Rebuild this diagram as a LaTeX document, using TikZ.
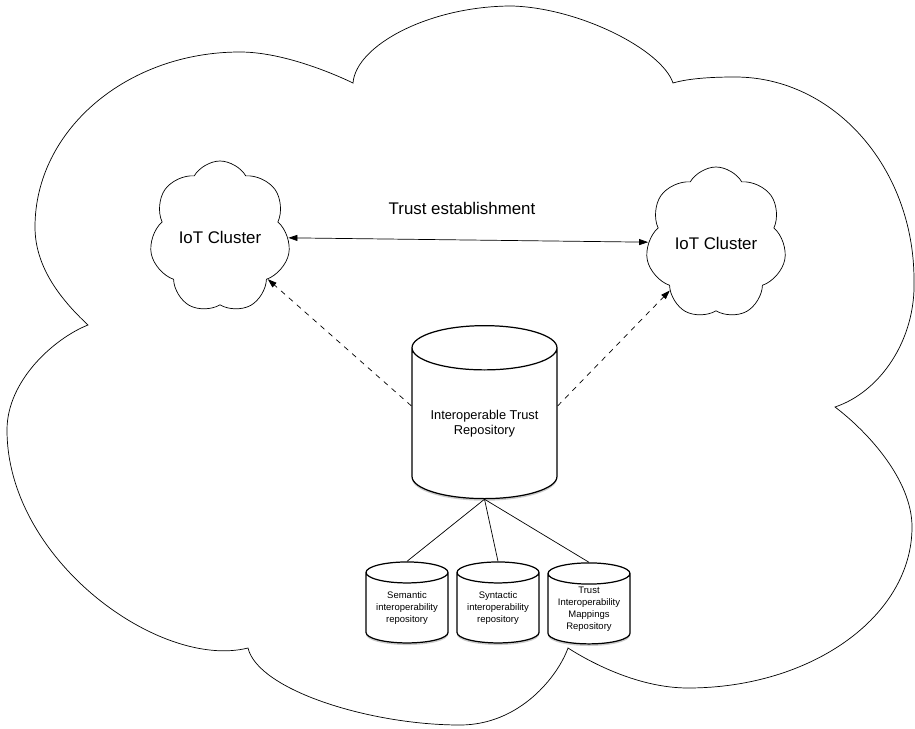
\documentclass[tikz,border=0pt]{standalone}
\usepackage{fontspec}
\setmainfont{Liberation Sans}
\usetikzlibrary{shapes.symbols,shapes.geometric,arrows.meta,shadows}
\tikzset{
  iotcloud/.style={draw, cloud, cloud puffs=7, cloud puff arc=120, cloud ignores aspect,
    minimum width=2.82cm, minimum height=3.04cm, inner sep=0pt,
    font=\fontsize{9.6}{11.5}\selectfont},
  repo/.style={draw, line width=0.7pt, fill=white, cylinder, shape border rotate=90, aspect=0.41,
    minimum width=2.9cm, minimum height=3.46cm, inner sep=0pt, align=center,
    drop shadow={shadow xshift=0pt, shadow yshift=-1.2pt, opacity=0.4},
    font=\fontsize{7.3}{8.6}\selectfont},
  subrepo/.style={repo, aspect=0.34, minimum width=1.64cm, minimum height=1.62cm,
    font=\fontsize{5.4}{6.8}\selectfont},
  duallink/.style={{Triangle[length=1.8mm,width=1.2mm]}-{Triangle[length=1.8mm,width=1.2mm]}},
  feedlink/.style={dashed, -{Triangle[length=1.8mm,width=1.2mm]}}
}
\begin{document}
\begin{tikzpicture}[x=0.02cm,y=-0.02cm]
\useasboundingbox (0,0) rectangle (915,729);
\draw (88,325) .. controls (58,297) and (35,265) .. (35,227)
  .. controls (35,130) and (127,52) .. (240,52)
  .. controls (280,52) and (328,71) .. (353,83)
  .. controls (356,45) and (430,6) .. (512,6)
  .. controls (580,8) and (662,50) .. (673,83)
  .. controls (690,78) and (715,77) .. (735,77)
  .. controls (834,77) and (914,168) .. (914,280)
  .. controls (916,340) and (880,392) .. (835,407)
  .. controls (868,432) and (912,480) .. (912,527)
  .. controls (912,616) and (812,688) .. (688,688)
  .. controls (640,688) and (593,664) .. (568,648)
  .. controls (558,676) and (520,725) .. (460,725)
  .. controls (370,725) and (258,690) .. (248,648)
  .. controls (160,670) and (7,560) .. (7,430)
  .. controls (7,380) and (55,338) .. (88,325) -- cycle;
\node[iotcloud] (lc) at (220,237) {IoT Cluster};
\node[iotcloud] (rc) at (716,243) {IoT Cluster};
\node[font=\fontsize{9.6}{11.5}\selectfont] (te) at (462,208) {Trust establishment};
\node[repo] (itr) at (484.5,423.5) {Interoperable Trust\\Repository};
\node[subrepo] (sem) at (407,608) {Semantic\\interoperability\\repository};
\node[subrepo] (syn) at (498,608) {Syntactic\\interoperability\\repository};
\node[subrepo] (map) at (589,609) {Trust\\Interoperability\\Mappings\\Repository};
\draw[duallink] (lc) -- (rc);
\draw[feedlink] ([yshift=10pt]itr.west) -- (lc);
\draw[feedlink] ([yshift=10pt]itr.east) -- (rc);
\draw (itr.south) -- (sem.north);
\draw (itr.south) -- (syn.north);
\draw (itr.south) -- (map.north);
\end{tikzpicture}
\end{document}
